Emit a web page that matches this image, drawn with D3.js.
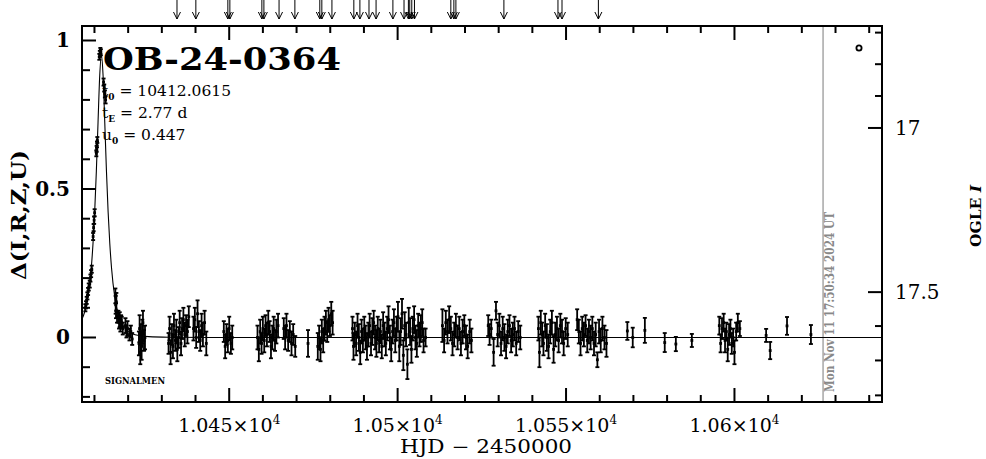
<!DOCTYPE html>
<html><head><meta charset="utf-8">
<script src="https://cdn.jsdelivr.net/npm/d3@7"></script>
<style>body{margin:0;background:#fff}svg{display:block}</style>
</head><body>
<svg id="c" width="986" height="459"></svg>
<script>
// ---------- data ----------
const xMajorTicks = [10450, 10500, 10550, 10600];
const xTickMantissa = ["1.045", "1.05", "1.055", "1.06"];
const xTickExponent = "4";
const xMinorTicks = [10410,10420,10430,10440,10460,10470,10480,10490,10510,10520,10530,10540,10560,10570,10580,10590,10610,10620,10630,10640];
const yMajorTicks = [0, 0.5, 1];
const yTickLabels = ["0", "0.5", "1"];
const yMinorTicks = [-0.2,-0.1,0.1,0.2,0.3,0.4,0.6,0.7,0.8,0.9];
const magMajorTicks = [17, 17.5];
const magTickLabels = ["17", "17.5"];
const magMinorTicks = [16.7, 16.8, 16.9, 17.6, 17.7, 17.8];

const modelHJD = [10406.3,10407.06,10408.06,10409.06,10409.56,10410.06,10410.56,10411.06,10411.56,10412.06,10412.56,10413.06,10413.56,10414.06,10414.56,10415.06,10416.06,10417.06,10418.06,10420.06,10422.06,10426.06,10432.06,10445,10643.8];
const modelDelta = [0.062,0.085,0.138,0.235,0.315,0.422,0.560,0.724,0.881,0.951,0.881,0.724,0.560,0.422,0.315,0.235,0.133,0.078,0.048,0.020,0.009,0.003,0.001,0.0001,0];

const obsHJD = [
10407.3,10407.5,10407.7,10407.9,10408.1,10408.3,10408.6,10408.8,10409.0,10409.2,
10409.6,10409.75,10409.9,10410.05,10410.55,10410.65,10410.75,10410.85,10411.45,10411.6,10411.75,10411.9,
10412.7,10412.9,10413.1,10413.3,
10416.2,10416.3,10416.4,10416.5,10416.7,10417.1,10417.3,10417.5,10417.7,10417.9,10418.1,10418.4,
10419.2,10419.5,10419.8,10420.4,10420.8,10421.2,
10423.2,10423.4,10423.6,10423.8,10424.0,10424.2,10424.4,10424.7,10425.0,
10432.0,10432.3,10432.6,10433.0,10433.3,10433.6,10434.0,10434.3,10434.6,10435.0,10435.3,10435.7,10436.0,10436.4,10436.8,10437.2,10437.6,10438.0,
10439.4,10439.8,10440.2,10440.6,10441.0,10441.4,10441.8,10442.2,10442.7,10443.2,
10448.4,10448.8,10449.2,10449.6,10450.0,10450.5,10450.9,
10458.4,10458.8,10459.2,10459.6,10460.0,10460.4,10460.8,10461.2,10461.6,10462.0,10462.4,10462.8,10463.2,10463.6,10464.0,10464.5,
10466.2,10466.6,10467.0,10467.5,10468.0,10468.5,10469.0,10469.6,10473.4,
10476.3,10476.7,10477.1,10477.5,10477.9,10478.3,10478.7,10479.1,10479.5,10479.9,10480.3,10480.7,
10486.6,10486.9,10487.3,10487.7,10488.1,10488.5,10488.9,10489.3,10489.7,10490.1,10490.5,10490.9,10491.3,10491.7,10492.1,10492.5,10492.9,10493.3,10493.7,10494.1,10494.5,10494.9,10495.3,10495.7,10496.1,10496.5,10496.9,10497.3,10497.7,10498.1,10498.5,10498.9,10499.3,10499.7,10500.1,10500.5,10500.9,10501.3,10501.7,10502.1,10502.5,10502.9,10503.3,10503.7,10504.1,10504.5,10504.9,10505.3,10505.7,10506.1,10506.5,10506.9,10507.3,10507.7,10508.3,
10513.3,10513.8,10514.3,10514.8,10515.3,10515.8,10516.3,10516.8,10517.3,10517.8,10518.3,10518.8,10519.3,10519.8,10520.3,10520.8,10521.4,10521.9,
10526.9,10527.3,10527.8,10528.5,10529.2,10529.7,10530.2,10530.7,10531.2,10531.7,10532.2,10532.7,10533.2,10533.7,10534.2,10534.7,10535.2,10535.8,10536.4,
10541.8,10542.1,10542.5,10542.9,10543.3,10543.8,10544.3,10544.8,10545.3,10545.8,10546.3,10546.8,10547.3,10547.8,10548.3,10548.8,10549.3,10549.9,10550.5,
10553.3,10553.8,10554.3,10554.8,10555.3,10555.8,10556.3,10556.8,10557.3,10557.8,10558.3,10558.8,10559.3,10559.8,10560.3,10560.8,10561.4,10562.0,
10568.2,10569.8,10573.4,10579.3,10582.6,10587.35,
10595.5,10595.9,10596.3,10596.8,10597.2,10597.6,10598.0,10598.4,10598.8,10599.2,10599.6,10600.0,10600.5,10601.0,10601.6,
10609.4,10610.6,10615.6,10622.7
];
const obsDelta = [
0.10,0.11,0.125,0.14,0.155,0.17,0.18,0.20,0.215,0.23,
0.34,0.37,0.395,0.42,0.62,0.635,0.65,0.665,0.945,0.955,0.965,0.96,
0.86,0.84,0.82,0.80,
0.14,0.11,0.09,0.12,0.07,0.07,0.05,0.06,0.04,0.055,0.05,0.03,
0.04,0.02,0.03,0.01,0.02,-0.005,
-0.02,0.03,-0.05,0.01,-0.03,0.02,0.05,-0.01,0.00,
-0.02,0.03,-0.05,0.01,-0.03,0.04,-0.01,0.02,-0.04,0.00,0.05,-0.02,0.03,0.06,0.01,0.04,0.02,0.07,
0.03,0.06,0.00,0.08,0.02,-0.01,0.04,0.01,0.05,-0.02,
0.02,-0.03,0.01,-0.01,0.03,-0.02,0.00,
0.00,-0.04,0.02,-0.02,0.03,-0.01,0.04,0.01,0.05,0.02,-0.03,0.00,0.03,-0.01,0.02,0.04,
0.03,0.00,0.04,-0.01,0.02,-0.02,0.01,-0.03,-0.02,
-0.03,0.00,-0.04,0.02,-0.01,0.03,0.05,0.02,0.06,0.04,0.08,0.05,
0.03,-0.03,0.01,-0.02,0.04,0.00,-0.05,0.02,-0.01,0.03,0.00,-0.03,0.01,0.04,-0.02,0.02,0.05,0.00,-0.02,0.03,-0.01,0.02,-0.03,0.04,0.01,-0.02,0.03,0.06,0.00,-0.04,0.02,0.05,-0.01,0.03,0.07,-0.03,0.02,0.08,-0.06,0.04,0.01,-0.09,0.05,0.02,-0.04,0.03,0.06,0.00,-0.02,0.04,0.01,0.03,0.05,-0.01,0.00,
0.04,-0.01,0.05,0.02,0.06,0.03,-0.02,0.01,0.04,0.00,0.03,-0.02,0.02,0.04,0.00,-0.03,0.02,-0.01,
0.04,0.01,0.03,-0.05,0.09,0.01,0.04,-0.02,0.03,0.00,-0.03,0.02,0.04,-0.01,0.01,0.03,-0.02,0.02,0.00,
0.03,-0.05,0.05,0.01,-0.02,0.04,0.00,-0.03,0.02,0.05,-0.04,0.01,0.03,-0.01,0.04,0.02,-0.02,0.03,0.01,
0.06,0.02,-0.02,0.03,0.01,0.04,-0.01,0.02,0.00,0.03,-0.02,0.01,-0.075,0.02,-0.01,0.03,0.00,-0.02,
0.022,0.00,0.024,-0.017,-0.022,-0.01,
0.04,-0.02,0.03,0.05,-0.01,0.02,-0.04,0.01,0.03,-0.02,0.00,-0.05,0.02,0.05,0.03,
0.007,-0.044,0.039,0.01
];
const obsErr = [
0.012,0.012,0.012,0.012,0.012,0.012,0.012,0.012,0.012,0.012,
0.012,0.012,0.012,0.012,0.01,0.01,0.01,0.01,0.01,0.01,0.01,0.01,
0.012,0.012,0.012,0.012,
0.025,0.03,0.025,0.03,0.02,0.02,0.02,0.025,0.02,0.02,0.02,0.02,
0.025,0.02,0.025,0.02,0.02,0.02,
0.04,0.045,0.04,0.035,0.045,0.04,0.04,0.035,0.04,
0.035,0.04,0.04,0.035,0.04,0.04,0.035,0.04,0.04,0.035,0.04,0.04,0.035,0.04,0.04,0.035,0.04,0.035,
0.04,0.04,0.035,0.045,0.035,0.035,0.04,0.04,0.04,0.04,
0.035,0.04,0.035,0.04,0.04,0.035,0.04,
0.04,0.04,0.04,0.035,0.04,0.04,0.035,0.04,0.04,0.035,0.04,0.04,0.04,0.035,0.04,0.04,
0.035,0.04,0.04,0.035,0.035,0.04,0.035,0.035,0.045,
0.045,0.04,0.04,0.04,0.04,0.04,0.04,0.035,0.04,0.035,0.04,0.04,
0.04,0.045,0.04,0.04,0.04,0.045,0.04,0.04,0.04,0.04,0.04,0.045,0.04,0.04,0.04,0.045,0.04,0.04,0.045,0.04,0.04,0.04,0.04,0.045,0.04,0.04,0.04,0.045,0.04,0.04,0.04,0.045,0.04,0.04,0.05,0.05,0.045,0.05,0.05,0.045,0.04,0.05,0.05,0.045,0.045,0.04,0.045,0.04,0.045,0.04,0.04,0.045,0.045,0.04,0.03,
0.055,0.04,0.04,0.04,0.045,0.04,0.04,0.04,0.04,0.04,0.04,0.04,0.04,0.035,0.04,0.04,0.04,0.04,
0.035,0.035,0.03,0.045,0.03,0.04,0.04,0.04,0.04,0.045,0.04,0.04,0.035,0.04,0.04,0.04,0.04,0.035,0.04,
0.04,0.05,0.04,0.04,0.04,0.04,0.045,0.04,0.04,0.04,0.045,0.04,0.04,0.04,0.04,0.04,0.04,0.035,0.04,
0.035,0.04,0.04,0.04,0.04,0.035,0.04,0.04,0.04,0.04,0.04,0.04,0.025,0.04,0.04,0.04,0.04,0.045,
0.03,0.033,0.042,0.032,0.024,0.022,
0.03,0.03,0.035,0.03,0.04,0.03,0.04,0.035,0.03,0.035,0.03,0.04,0.03,0.03,0.025,
0.022,0.029,0.03,0.032
];

const alertHJD = [10434.5,10440.1,10449.6,10450.2,10459.7,10460.3,10464.8,10469.5,10476.9,10477.5,10480.5,10487.0,10488.8,10491.5,10493.6,10498.6,10501.9,10503.2,10503.6,10504.2,10505.0,10515.8,10516.7,10517.3,10531.55,10547.6,10548.8,10559.6];
const nowHJD = 10626.3;
const nowLabel = "Mon Nov 11 17:50:34 2024 UT";
const eventName = "OB-24-0364";
const paramNames = [["t","0"],["t","E"],["u","0"]];
const paramValues = ["10412.0615", "2.77 d", "0.447"];

// ---------- drawing ----------
const svg = d3.select("#c");
const L = 82, R = 882, T = 26, B = 402;
const x = d3.scaleLinear().domain([10406.3, 10643.8]).range([L, R]);
const y = d3.scaleLinear().domain([-0.2172, 1.0488]).range([B, T]);
// OGLE I magnitude -> Delta (flux-based, nonlinear)
const magToDelta = m => 2.5 * Math.log10((Math.pow(10, -0.4 * (m - 17)) - 0.075) / 0.483);
const yMag = m => y(magToDelta(m));

const FONT = "'DejaVu Serif', 'Liberation Serif', serif";

svg.append("clipPath").attr("id","clip").append("rect").attr("x",L).attr("y",T).attr("width",R-L).attr("height",B-T);

// now line
svg.append("line").attr("x1", x(nowHJD)).attr("x2", x(nowHJD)).attr("y1", T).attr("y2", B)
  .attr("stroke", "#999").attr("stroke-width", 1.3);
svg.append("text").attr("transform", `translate(${x(nowHJD)+11},${B-10}) rotate(-90)`)
  .attr("font-family", FONT).attr("font-weight", "bold").attr("font-size", 12).attr("fill", "#888")
  .attr("textLength", 180).attr("lengthAdjust", "spacingAndGlyphs").text(nowLabel);

// model curve
const g = svg.append("g").attr("clip-path","url(#clip)");
g.append("path").datum(modelHJD.map((t,i)=>[t, modelDelta[i]]))
  .attr("d", d3.line().x(d=>x(d[0])).y(d=>y(d[1])).curve(d3.curveMonotoneX))
  .attr("fill","none").attr("stroke","#000").attr("stroke-width",1.1);

// observations
const obs = obsHJD.map((t,i)=>({t, d: obsDelta[i], e: obsErr[i]}));
const eb = g.append("g").attr("stroke","#000").attr("stroke-width",1.8);
obs.forEach(o => {
  const cx = x(o.t), y1 = y(o.d + o.e), y2 = y(o.d - o.e);
  eb.append("line").attr("x1",cx).attr("x2",cx).attr("y1",y1).attr("y2",y2);
  eb.append("line").attr("x1",cx-2).attr("x2",cx+2).attr("y1",y1).attr("y2",y1);
  eb.append("line").attr("x1",cx-2).attr("x2",cx+2).attr("y1",y2).attr("y2",y2);
});
g.append("g").selectAll("rect").data(obs).join("rect")
  .attr("x", o=>x(o.t)-1.4).attr("y", o=>y(o.d)-1.4).attr("width",2.8).attr("height",2.8).attr("fill","#000");

// frame
svg.append("rect").attr("x",L).attr("y",T).attr("width",R-L).attr("height",B-T)
  .attr("fill","none").attr("stroke","#000").attr("stroke-width",2);

const ticks = svg.append("g").attr("stroke","#000").attr("stroke-width",2);
xMajorTicks.forEach(t => {
  ticks.append("line").attr("x1",x(t)).attr("x2",x(t)).attr("y1",B).attr("y2",B-14);
  ticks.append("line").attr("x1",x(t)).attr("x2",x(t)).attr("y1",T).attr("y2",T+14);
});
xMinorTicks.forEach(t => {
  ticks.append("line").attr("x1",x(t)).attr("x2",x(t)).attr("y1",B).attr("y2",B-7);
  ticks.append("line").attr("x1",x(t)).attr("x2",x(t)).attr("y1",T).attr("y2",T+7);
});
yMajorTicks.forEach(v => ticks.append("line").attr("x1",L).attr("x2",L+14).attr("y1",y(v)).attr("y2",y(v)));
yMinorTicks.forEach(v => ticks.append("line").attr("x1",L).attr("x2",L+8).attr("y1",y(v)).attr("y2",y(v)));
magMajorTicks.forEach(m => ticks.append("line").attr("x1",R).attr("x2",R-14).attr("y1",yMag(m)).attr("y2",yMag(m)));
magMinorTicks.forEach(m => ticks.append("line").attr("x1",R).attr("x2",R-7).attr("y1",yMag(m)).attr("y2",yMag(m)));

// x tick labels
xMajorTicks.forEach((t,i) => {
  const tx = svg.append("text").attr("x", x(t)).attr("y", 432).attr("text-anchor","middle")
    .attr("font-family", FONT).attr("font-size", 19);
  tx.append("tspan").text(xTickMantissa[i] + "\u00d710");
  tx.append("tspan").attr("dy",-8).attr("font-size",12).text(xTickExponent);
});
svg.append("text").attr("x", 486).attr("y", 453).attr("text-anchor","middle")
  .attr("font-family", FONT).attr("font-size", 18).attr("textLength",172).attr("lengthAdjust","spacingAndGlyphs")
  .text("HJD \u2212 2450000");

// left tick labels
yMajorTicks.forEach((v,i) => svg.append("text").attr("x", 70).attr("y", y(v)+7).attr("text-anchor","end")
  .attr("font-family", FONT).attr("font-size", 20).attr("font-weight","bold").text(yTickLabels[i]));
svg.append("text").attr("transform","translate(26,215) rotate(-90)").attr("text-anchor","middle")
  .attr("font-family", FONT).attr("font-size", 20).attr("font-weight","bold")
  .attr("textLength",130).attr("lengthAdjust","spacingAndGlyphs").text("\u0394(I,R,Z,U)");

// right tick labels
magMajorTicks.forEach((m,i) => svg.append("text").attr("x", 895).attr("y", yMag(m)+7)
  .attr("font-family", FONT).attr("font-size", 20).text(magTickLabels[i]));
const rl = svg.append("text").attr("transform","translate(981,216) rotate(-90)").attr("text-anchor","middle")
  .attr("font-family", FONT).attr("font-size", 15.5).attr("font-weight","bold");
rl.append("tspan").text("OGLE ");
rl.append("tspan").attr("font-style","italic").text("I");

// alert arrows
const ar = svg.append("g").attr("stroke","#000").attr("stroke-width",1).attr("fill","none");
alertHJD.forEach(t => {
  const ax = x(t);
  ar.append("line").attr("x1",ax).attr("x2",ax).attr("y1",0).attr("y2",19);
  ar.append("path").attr("d",`M${ax-3.5},12L${ax},19L${ax+3.5},12`);
});

// title and params
svg.append("text").attr("x",103).attr("y",70).attr("font-family",FONT).attr("font-weight","bold")
  .attr("font-size",32).attr("textLength",238).attr("lengthAdjust","spacingAndGlyphs").text(eventName);
paramNames.forEach((p,i) => {
  const ty = 96 + i*22;
  const tt = svg.append("text").attr("x",102).attr("y",ty).attr("font-family",FONT).attr("font-size",15.5);
  tt.append("tspan").text(p[0]);
  tt.append("tspan").attr("dy",4).attr("font-size",9).attr("font-weight","bold").text(p[1]);
  tt.append("tspan").attr("dy",-4).text(" = " + paramValues[i]);
});
svg.append("text").attr("x",105).attr("y",384).attr("font-family",FONT).attr("font-size",9.5).attr("font-weight","bold")
  .attr("textLength",60).attr("lengthAdjust","spacingAndGlyphs").text("SIGNALMEN");

// OGLE marker
svg.append("circle").attr("cx",859).attr("cy",48).attr("r",2.6).attr("fill","none").attr("stroke","#000").attr("stroke-width",1.8);
</script>
</body></html>
